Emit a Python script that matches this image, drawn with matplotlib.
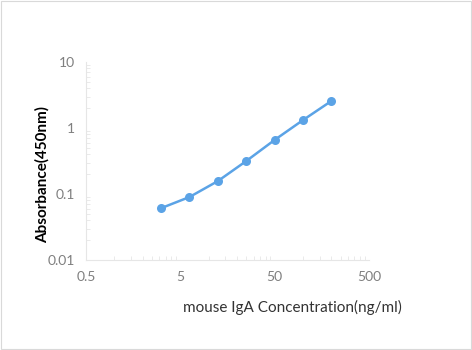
import matplotlib.pyplot as plt
import numpy as np
from matplotlib.ticker import LogLocator, FixedLocator, NullFormatter
from matplotlib.patches import Rectangle

# Standard curve: concentration (ng/ml) vs absorbance at 450 nm
concentration = [3.125, 6.25, 12.5, 25, 50, 100, 200]
absorbance = [0.061, 0.090, 0.157, 0.316, 0.66, 1.32, 2.57]

x_ticks = [0.5, 5, 50, 500]
x_tick_labels = ['0.5', '5', '50', '500']
y_ticks = [0.01, 0.1, 1, 10]
y_tick_labels = ['0.01', '0.1', '1', '10']

plt.rcParams['font.family'] = ['Lato', 'DejaVu Sans']

fig = plt.figure(figsize=(4.72, 3.5), dpi=100)
ax = fig.add_axes([86 / 472, 90 / 350, 283 / 472, 198 / 350])

ax.plot(concentration, absorbance, color='#5ba3e6', linewidth=1.8,
        marker='o', markersize=6.5, markeredgewidth=0)

ax.set_xscale('log')
ax.set_yscale('log')
ax.set_xlim(0.5, 500)
ax.set_ylim(0.01, 10)

ax.xaxis.set_major_locator(FixedLocator(x_ticks))
ax.set_xticklabels(x_tick_labels)
ax.yaxis.set_major_locator(FixedLocator(y_ticks))
ax.set_yticklabels(y_tick_labels)

# faint Excel-like minor ticks inside the axes
x_minor = [m * 0.5 * 10 ** k for k in range(3) for m in range(2, 10)]
ax.xaxis.set_minor_locator(FixedLocator(x_minor))
ax.yaxis.set_minor_locator(LogLocator(base=10, subs=np.arange(2, 10)))
ax.xaxis.set_minor_formatter(NullFormatter())
ax.yaxis.set_minor_formatter(NullFormatter())

ax.tick_params(axis='both', which='major', length=0, labelsize=10,
               labelcolor='#7f7f7f', pad=8)
ax.tick_params(axis='both', which='minor', direction='in', length=3,
               width=0.6, color='#e6e6e6')

for side in ['top', 'right']:
    ax.spines[side].set_visible(False)
for side in ['left', 'bottom']:
    ax.spines[side].set_color('#e6e6e6')
    ax.spines[side].set_linewidth(0.8)

ax.set_ylabel('Absorbance(450nm)', fontsize=11, fontweight='bold',
              color='#000000')
ax.yaxis.set_label_coords(-0.127, 0.43)
ax.set_xlabel('mouse IgA Concentration(ng/ml)', fontsize=11, color='#333333')
ax.xaxis.set_label_coords(0.73, -0.2)

# thin grey frame around the whole chart area
fig.patches.append(Rectangle((0.002, 0.003), 0.995, 0.994, transform=fig.transFigure,
                             fill=False, edgecolor='#d9d9d9', linewidth=0.8))

fig.savefig('out.png', dpi=100)
